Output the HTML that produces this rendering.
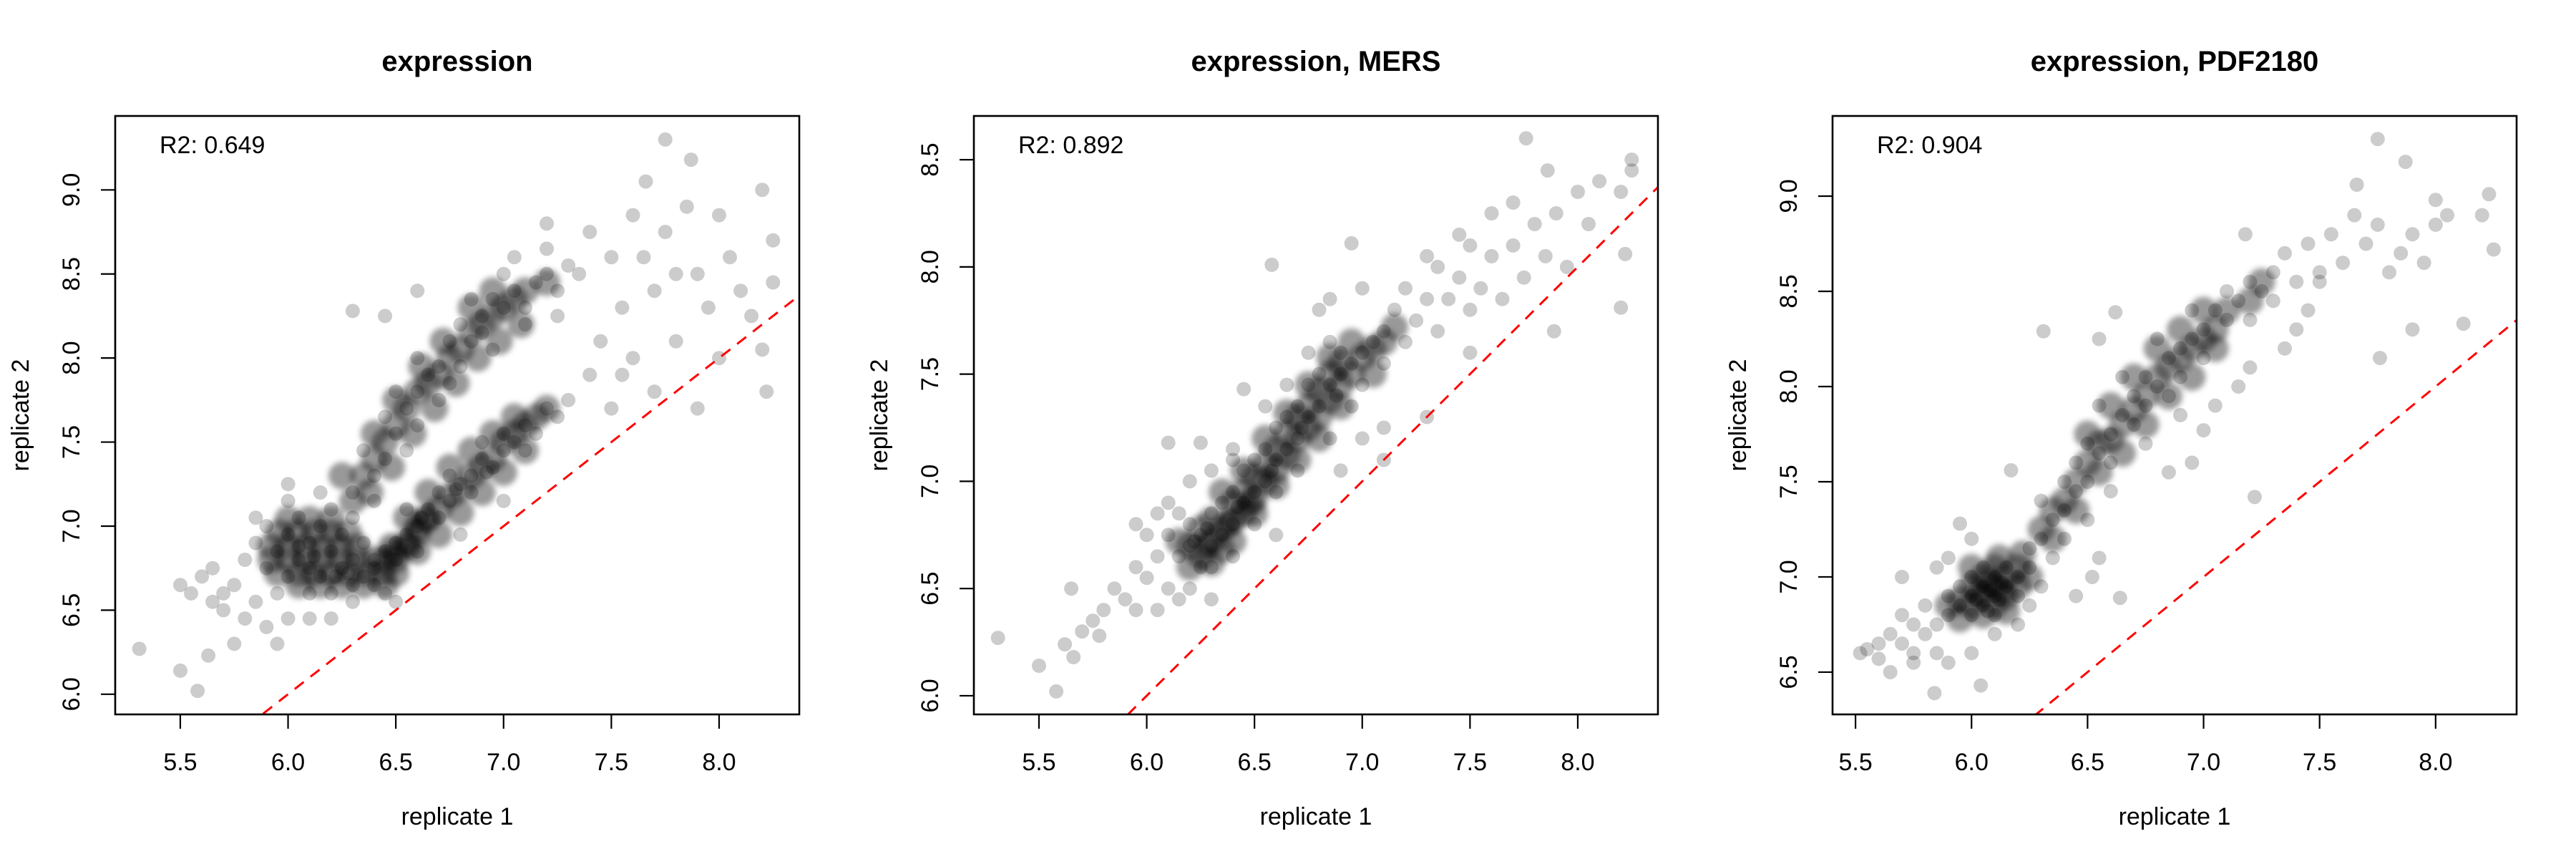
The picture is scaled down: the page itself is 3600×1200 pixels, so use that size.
<!DOCTYPE html>
<html><head><meta charset="utf-8"><style>
html,body{margin:0;padding:0;background:#fff;overflow:hidden;width:3600px;height:1200px;}
svg{display:block;position:absolute;left:0;top:0;font-family:"Liberation Sans",Arial,sans-serif;}
</style></head><body>
<svg id="fig" width="3600" height="1200" viewBox="0 0 3600 1200" xmlns="http://www.w3.org/2000/svg" overflow="hidden">
<defs><filter id="soft" x="-10%" y="-10%" width="120%" height="120%"><feGaussianBlur stdDeviation="4"/></filter></defs>
<rect width="3600" height="1200" fill="#fff"/>
</svg>
<script>
const titles = ["expression", "expression, MERS", "expression, PDF2180"];
const r2Labels = ["R2: 0.649", "R2: 0.892", "R2: 0.904"];
const xTicks1 = [5.5, 6.0, 6.5, 7.0, 7.5, 8.0];
const xTicks2 = [5.5, 6.0, 6.5, 7.0, 7.5, 8.0];
const xTicks3 = [5.5, 6.0, 6.5, 7.0, 7.5, 8.0];
const yTicks1 = [6.0, 6.5, 7.0, 7.5, 8.0, 8.5, 9.0];
const yTicks2 = [6.0, 6.5, 7.0, 7.5, 8.0, 8.5];
const yTicks3 = [6.5, 7.0, 7.5, 8.0, 8.5, 9.0];
const xRange1 = [5.198, 8.372], yRange1 = [5.88, 9.44];
const xRange2 = [5.198, 8.372], yRange2 = [5.913, 8.704];
const xRange3 = [5.401, 8.349], yRange3 = [6.278, 9.421];

const pts1 = [[5.95,6.85],[6.0,6.95],[6.05,6.8],[6.1,6.9],[6.15,7.0],[6.2,6.85],[6.1,6.75],[6.0,6.7],[6.25,6.95],[6.05,7.05],[6.15,6.7],[5.9,6.75],[6.2,7.1],[6.3,7.05],[5.95,6.6],[6.1,6.6],[6.25,6.75],[6.3,6.65],[6.2,6.6],[6.35,6.7],[6.4,6.8],[6.35,6.9],[6.4,6.65],[6.3,6.8],[5.85,6.9],[5.9,7.0],[6.0,7.15],[6.15,7.2],[6.05,6.88],[6.12,6.82],[6.22,6.7],[6.28,6.72],
[6.3,7.2],[6.4,7.3],[6.35,7.45],[6.45,7.4],[6.5,7.55],[6.45,7.65],[6.55,7.7],[6.6,7.8],[6.5,7.8],[6.65,7.9],[6.7,7.95],[6.6,8.0],[6.75,8.1],[6.8,8.2],[6.85,8.1],[6.9,8.25],[6.9,8.15],[6.95,8.35],[7.0,8.3],[7.05,8.4],[7.1,8.3],[7.15,8.45],[7.2,8.5],[7.25,8.4],[7.3,8.55],[7.0,8.5],[6.8,7.95],[6.7,7.75],[6.55,7.45],[6.4,7.15],[6.6,7.6],[6.75,7.85],[6.95,8.05],[7.1,8.2],[7.25,8.25],[7.35,8.5],[6.85,8.35],[7.05,8.6],[7.2,8.65],
[6.4,6.75],[6.45,6.85],[6.5,6.9],[6.55,6.95],[6.5,6.8],[6.6,7.0],[6.65,7.1],[6.7,7.05],[6.7,7.2],[6.75,7.15],[6.8,7.25],[6.85,7.3],[6.85,7.2],[6.9,7.4],[6.95,7.35],[7.0,7.45],[7.0,7.55],[7.05,7.5],[7.1,7.6],[7.15,7.55],[7.2,7.7],[7.25,7.65],[7.3,7.75],[6.6,6.85],[6.75,7.3],[6.9,7.5],[7.1,7.45],[6.55,7.1],[6.3,6.55],[6.45,6.6],[6.62,7.05],[6.78,7.22],[6.92,7.32],
[7.4,7.9],[7.45,8.1],[7.5,7.7],[7.55,8.3],[7.6,8.0],[7.65,8.6],[7.7,7.8],[7.7,8.4],[7.75,8.75],[7.8,8.1],[7.85,8.9],[7.9,7.7],[7.9,8.5],[7.95,8.3],[8.0,8.0],[8.0,8.85],[8.05,8.6],[8.1,8.4],[8.15,8.25],[8.2,8.05],[8.2,9.0],[8.25,8.45],[8.25,8.7],[7.75,9.3],[7.87,9.18],[7.66,9.05],[8.22,7.8],[7.4,8.75],[7.5,8.6],[7.6,8.85],[7.8,8.5],[7.55,7.9],
[5.5,6.65],[5.55,6.6],[5.6,6.7],[5.65,6.55],[5.7,6.5],[5.75,6.65],[5.8,6.45],[5.8,6.8],[5.65,6.75],[5.85,6.55],[5.9,6.4],[6.0,6.45],[6.1,6.45],[5.75,6.3],[5.63,6.23],[5.5,6.14],[5.58,6.02],[5.31,6.27],[5.95,6.3],[5.7,6.6],[5.85,7.05],[6.0,7.25],[6.5,6.55],[6.8,6.95],[7.0,7.15],[6.3,8.28],[6.6,8.4],[6.45,8.25],[7.2,8.8],[6.2,6.45]];
const core1 = [[6.05,6.65],[6.15,6.65],[6.25,6.65],[6.35,6.65],[6.45,6.65],
[5.95,6.72],[6.05,6.72],[6.12,6.72],[6.2,6.72],[6.28,6.72],[6.36,6.72],[6.44,6.72],
[5.92,6.8],[6.0,6.8],[6.08,6.8],[6.16,6.8],[6.24,6.8],[6.32,6.8],[6.4,6.8],[6.5,6.8],
[5.92,6.88],[6.0,6.88],[6.08,6.88],[6.16,6.88],[6.24,6.88],[6.32,6.88],[6.48,6.88],[6.56,6.88],
[5.96,6.96],[6.04,6.96],[6.12,6.96],[6.2,6.96],[6.28,6.96],[6.6,6.96],[6.0,7.04],[6.1,7.04],[6.2,7.04],[6.64,7.04],
[6.3,7.15],[6.35,7.3],[6.4,7.4],[6.45,7.5],[6.5,7.6],[6.55,7.7],[6.6,7.8],[6.65,7.85],[6.7,7.9],[6.75,8.0],[6.8,8.05],[6.85,8.15],[6.9,8.2],[6.95,8.25],[7.0,8.3],[7.05,8.35],[7.1,8.4],[7.2,8.45],
[6.38,7.2],[6.48,7.35],[6.58,7.55],[6.68,7.7],[6.78,7.85],[6.88,8.0],[6.98,8.1],[7.08,8.2],[6.25,7.3],[6.4,7.55],[6.5,7.75],[6.62,7.95],[6.72,8.1],[6.85,8.3],[6.95,8.4],
[6.45,6.8],[6.5,6.85],[6.55,6.9],[6.6,7.0],[6.65,7.05],[6.7,7.1],[6.75,7.18],[6.8,7.22],[6.85,7.3],[6.9,7.35],[6.95,7.4],[7.0,7.5],[7.05,7.55],[7.1,7.6],[7.15,7.65],[7.2,7.7],
[6.5,6.72],[6.6,6.85],[6.7,6.95],[6.8,7.08],[6.9,7.2],[7.0,7.32],[7.1,7.45],[6.55,7.05],[6.65,7.2],[6.75,7.35],[6.85,7.45],[6.95,7.55],[7.05,7.65]];

const pts2 = [[6.15,6.65],[6.2,6.7],[6.25,6.75],[6.2,6.8],[6.3,6.7],[6.3,6.85],[6.35,6.75],[6.35,6.9],[6.4,6.8],[6.4,6.95],[6.45,6.9],[6.45,7.05],[6.5,6.95],[6.5,7.1],[6.55,7.0],[6.55,7.15],[6.6,7.1],[6.6,7.25],[6.65,7.15],[6.65,7.3],[6.7,7.2],[6.7,7.35],[6.75,7.3],[6.75,7.45],[6.8,7.35],[6.8,7.5],[6.85,7.45],[6.9,7.5],[6.9,7.6],[6.95,7.55],[7.0,7.6],[7.0,7.45],[7.05,7.65],[7.1,7.7],[6.25,6.6],[6.1,6.75],[6.15,6.85],[6.3,6.6],[6.4,6.65],[6.5,6.8],[6.6,6.95],[6.7,7.05],[6.85,7.2],[6.95,7.35],[6.55,7.35],[6.65,7.45],[6.75,7.6],[6.85,7.65],[6.22,6.72],[6.28,6.78],[6.42,6.88],[6.58,7.05],[6.72,7.25],[6.88,7.4],
[6.0,6.55],[6.05,6.65],[6.1,6.5],[5.95,6.6],[6.0,6.75],[6.1,6.9],[6.2,7.0],[6.3,7.05],[6.4,7.15],[7.1,7.55],[7.15,7.8],[7.2,7.65],[7.2,7.9],[7.25,7.75],[7.3,7.85],[7.35,7.7],[7.35,8.0],[7.4,7.85],[7.45,7.95],[7.5,7.8],[7.5,8.1],[7.55,7.9],[7.6,8.05],[7.65,7.85],[7.7,8.1],[7.75,7.95],[7.8,8.2],[7.85,8.05],[7.9,8.25],[7.95,8.0],[8.0,8.35],[8.05,8.2],[8.1,8.4],[8.2,8.35],[8.25,8.5],[8.25,8.45],[7.76,8.6],[7.86,8.45],[8.22,8.06],[8.2,7.81],[7.89,7.7],[7.6,8.25],[7.7,8.3],[7.45,8.15],[7.3,8.05],[7.0,7.9],[6.95,8.11],[6.58,8.01],[6.85,7.85],[6.8,7.8],
[5.85,6.5],[5.9,6.45],[5.8,6.4],[5.75,6.35],[5.7,6.3],[5.65,6.5],[5.62,6.24],[5.66,6.18],[5.5,6.14],[5.58,6.02],[5.31,6.27],[5.78,6.28],[5.95,6.4],[6.05,6.4],[6.15,6.45],[6.2,6.5],[6.3,6.45],[6.1,7.18],[6.25,7.18],[6.45,7.43],[6.4,7.1],[5.95,6.8],[6.05,6.85],[6.9,7.05],[7.1,7.1],[7.1,7.25],[7.0,7.2],[7.3,7.3],[7.5,7.6],[6.6,6.75]];
const core2 = [[6.2,6.7],[6.25,6.65],[6.25,6.78],[6.3,6.72],[6.3,6.82],[6.35,6.78],[6.35,6.68],[6.4,6.82],[6.4,6.9],[6.45,6.85],[6.45,6.95],[6.5,6.92],[6.5,7.02],[6.55,7.0],[6.55,7.08],[6.6,7.05],[6.6,7.15],[6.65,7.12],[6.65,7.22],[6.7,7.2],[6.7,7.3],[6.75,7.25],[6.75,7.35],[6.8,7.3],[6.8,7.42],[6.85,7.38],[6.85,7.5],[6.9,7.45],[6.9,7.55],[6.95,7.5],[7.0,7.58],[7.05,7.62],[6.15,6.72],[6.2,6.6],[6.3,6.62],[6.4,6.72],[6.5,6.85],[6.6,6.98],[6.7,7.1],[6.8,7.2],[6.9,7.35],[6.35,6.95],[6.45,7.05],[6.55,7.2],[6.65,7.32],[6.75,7.45],[6.85,7.58],[6.95,7.65],[7.05,7.5],[7.1,7.65],[7.15,7.72],[6.28,6.7],[6.38,6.8],[6.48,6.9]];

const pts3 = [[5.95,6.85],[6.0,6.9],[6.05,6.95],[6.1,6.9],[6.1,7.0],[6.15,6.95],[6.05,6.85],[6.0,6.8],[6.15,7.05],[6.2,7.0],[6.1,6.8],[5.95,6.95],[6.05,7.05],[6.2,6.9],[6.25,7.05],[6.25,7.15],[5.9,6.8],[6.0,7.0],[6.12,6.88],[6.08,6.93],[5.85,6.75],[5.9,6.9],[6.02,6.88],[6.13,6.97],[6.07,6.82],
[5.55,6.62],[5.6,6.65],[5.65,6.7],[5.7,6.65],[5.75,6.75],[5.8,6.7],[5.8,6.85],[5.75,6.6],[5.85,6.6],[5.7,6.8],[6.3,7.2],[6.35,7.3],[6.3,7.4],[6.4,7.35],[6.4,7.5],[6.45,7.45],[6.5,7.5],[6.45,7.6],[6.5,7.7],[6.55,7.65],[6.6,7.75],[6.6,7.6],[6.65,7.85],[6.7,7.8],[6.7,7.95],[6.75,7.9],[6.75,8.05],[6.8,8.0],[6.85,8.15],[6.85,7.95],[6.9,8.2],[6.9,8.05],[6.95,8.25],[7.0,8.3],[7.0,8.15],[7.05,8.4],[7.1,8.35],[7.1,8.5],[7.15,8.45],[7.2,8.55],[7.2,8.35],[7.25,8.5],[7.3,8.6],[7.3,8.45],[6.55,7.9],[6.65,8.05],[6.8,8.25],[6.95,8.4],[6.9,7.85],[6.75,7.7],[6.6,7.45],[6.5,7.3],[6.35,7.1],[6.4,7.2],
[7.35,8.7],[7.4,8.55],[7.45,8.75],[7.5,8.6],[7.55,8.8],[7.6,8.65],[7.65,8.9],[7.7,8.75],[7.75,8.85],[7.8,8.6],[7.85,8.7],[7.9,8.8],[7.95,8.65],[8.0,8.85],[8.05,8.9],[8.2,8.9],[8.25,8.72],[8.12,8.33],[7.9,8.3],[7.76,8.15],[7.75,9.3],[7.87,9.18],[7.66,9.06],[8.23,9.01],[8.0,8.98],[7.5,8.55],[7.45,8.4],[7.4,8.3],[7.35,8.2],[7.2,8.1],[7.15,8.0],[7.05,7.9],[7.0,7.77],[6.95,7.6],[6.85,7.55],[7.22,7.42],[7.18,8.8],[6.62,8.39],[6.31,8.29],[6.55,8.25],
[5.65,6.5],[5.6,6.57],[5.75,6.55],[5.9,6.55],[6.0,6.6],[6.1,6.7],[6.2,6.75],[6.25,6.85],[6.3,6.95],[5.84,6.39],[6.04,6.43],[5.9,7.1],[5.85,7.05],[6.0,7.2],[5.95,7.28],[6.17,7.56],[6.45,6.9],[6.64,6.89],[6.52,7.0],[6.55,7.1],[5.52,6.6],[5.7,7.0]];
const core3 = [[5.95,6.88],[6.0,6.85],[6.0,6.95],[6.05,6.9],[6.05,7.0],[6.1,6.85],[6.1,6.95],[6.1,7.05],[6.15,6.9],[6.15,7.0],[6.2,6.95],[6.2,7.05],[6.05,6.8],[6.15,6.82],[5.95,6.78],[5.9,6.85],[6.25,7.0],[6.0,7.05],[6.12,7.1],[6.22,7.12],[6.03,6.92],[6.08,6.97],[6.13,6.93],
[6.3,7.25],[6.35,7.35],[6.4,7.4],[6.45,7.5],[6.5,7.6],[6.55,7.7],[6.6,7.72],[6.65,7.8],[6.7,7.88],[6.75,7.95],[6.8,8.05],[6.85,8.1],[6.9,8.15],[6.95,8.2],[7.0,8.25],[7.05,8.3],[7.1,8.4],[7.2,8.45],[7.25,8.55],[6.35,7.2],[6.45,7.35],[6.55,7.55],[6.65,7.65],[6.75,7.8],[6.85,7.95],[6.95,8.05],[7.05,8.2],[6.5,7.75],[6.6,7.9],[6.7,8.05],[6.8,8.2],[6.9,8.3],[7.0,8.4]];

const panels = [
  {xt:xTicks1, yt:yTicks1, xr:xRange1, yr:yRange1, pts:pts1, core:core1},
  {xt:xTicks2, yt:yTicks2, xr:xRange2, yr:yRange2, pts:pts2, core:core2},
  {xt:xTicks3, yt:yTicks3, xr:xRange3, yr:yRange3, pts:pts3, core:core3}
];
const NS = "http://www.w3.org/2000/svg";
const svg = document.getElementById("fig");
function mk(tag, attrs, parent){
  const e = document.createElementNS(NS, tag);
  for (const k in attrs) e.setAttribute(k, attrs[k]);
  (parent||svg).appendChild(e); return e;
}
const L = 161, R = 1117, T = 162, B = 998;
panels.forEach((p, i) => {
  const off = i * 1200;
  const g = mk("g", {transform:`translate(${off},0)`});
  
  
  const sx = v => L + (v - p.xr[0]) / (p.xr[1] - p.xr[0]) * (R - L);
  const sy = v => B - (v - p.yr[0]) / (p.yr[1] - p.yr[0]) * (B - T);
  const clipId = "clip" + i;
  const cp = mk("clipPath", {id:clipId}, g);
  mk("rect", {x:L, y:T, width:R-L, height:B-T}, cp);
  const pg = mk("g", {fill:"rgba(0,0,0,0.2)"}, g);
  
  
  p.pts.forEach(d => {
    const c = mk("circle", {cx:sx(d[0]).toFixed(1), cy:sy(d[1]).toFixed(1), r:10}, pg);
    
    
  });
  const cg = mk("g", {fill:"rgba(0,0,0,0.4)", filter:"url(#soft)"}, g);
  
  
  p.core.forEach(d => {
    const c = mk("circle", {cx:sx(d[0]).toFixed(1), cy:sy(d[1]).toFixed(1), r:19}, cg);
    
    
  });
  const lo = Math.min(p.xr[0], p.yr[0]) - 1, hi = Math.max(p.xr[1], p.yr[1]) + 1;
  const ln = mk("line", {x1:sx(lo), y1:sy(lo), x2:sx(hi), y2:sy(hi), stroke:"#ff0000", "stroke-width":3, "stroke-dasharray":"16 12", "clip-path":`url(#${clipId})`}, g);
  
  
  const box = mk("rect", {x:L, y:T, width:R-L, height:B-T, fill:"none", stroke:"#000", "stroke-width":2.6}, g);
  
  
  const xa = mk("g", {}, g);
  
  
  mk("line", {x1:sx(p.xt[0]), x2:sx(p.xt[p.xt.length-1]), y1:B, y2:B, stroke:"#000","stroke-width":2.2}, xa);
  p.xt.forEach(v => {
    mk("line", {x1:sx(v), x2:sx(v), y1:B, y2:B+20, stroke:"#000","stroke-width":2.2}, xa);
    const t = mk("text", {x:sx(v), y:1076, "text-anchor":"middle","font-size":34}, xa);
    t.textContent = v.toFixed(1);
    
    
  });
  const ya = mk("g", {}, g);
  
  
  mk("line", {x1:L, x2:L, y1:sy(p.yt[0]), y2:sy(p.yt[p.yt.length-1]), stroke:"#000","stroke-width":2.2}, ya);
  p.yt.forEach(v => {
    mk("line", {x1:L-20, x2:L, y1:sy(v), y2:sy(v), stroke:"#000","stroke-width":2.2}, ya);
    const t = mk("text", {x:0, y:0, transform:`translate(111,${sy(v)}) rotate(-90)`, "text-anchor":"middle","font-size":34}, ya);
    t.textContent = v.toFixed(1);
    
    
  });
  const xt = mk("text", {x:(L+R)/2, y:1152, "text-anchor":"middle","font-size":34}, g);
  xt.textContent = "replicate 1";
  
  
  const yt = mk("text", {x:0, y:0, transform:`translate(40,${(T+B)/2}) rotate(-90)`, "text-anchor":"middle","font-size":34}, g);
  yt.textContent = "replicate 2";
  
  
  const tt = mk("text", {x:(L+R)/2, y:99, "text-anchor":"middle","font-size":40,"font-weight":"bold"}, g);
  tt.textContent = titles[i];
  
  
  const r2 = mk("text", {x:223, y:214, "font-size":34}, g);
  r2.textContent = r2Labels[i];
  
  
});
</script>
</body></html>
